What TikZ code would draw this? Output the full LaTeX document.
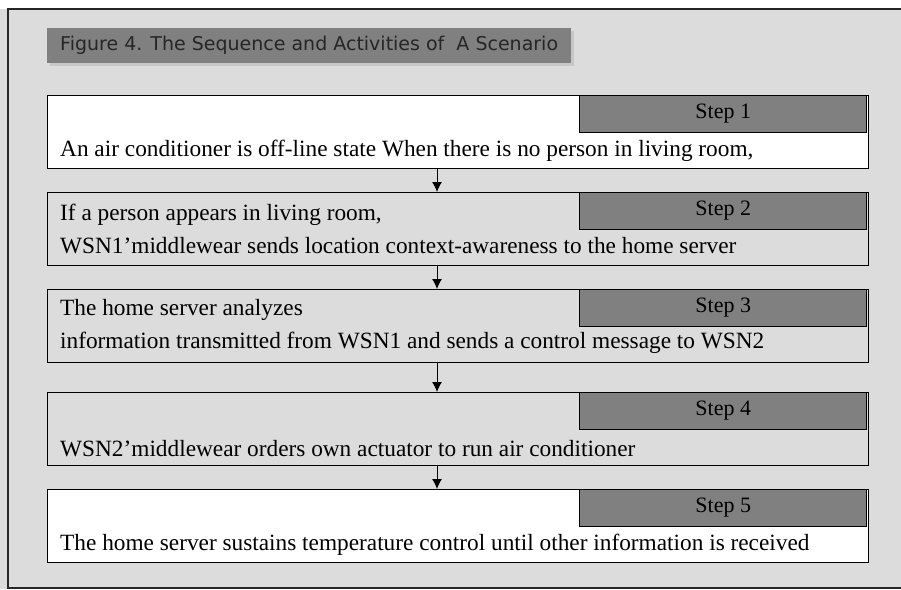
\documentclass[tikz,border=0pt]{standalone}
\usepackage{fontspec}
\setmainfont{Liberation Serif}
\newfontfamily\titlefont{DejaVu Sans}
\usetikzlibrary{positioning, arrows.meta, shadows}

\definecolor{paneBG}{HTML}{DCDCDC}
\definecolor{tagGray}{HTML}{808080}

\begin{document}
\begin{tikzpicture}[x = 1pt, y = -1pt,
	stepbox/.style = {draw, line width = 1.2pt, minimum width = 821pt, minimum height = 73pt, anchor = north west, inner sep = 0},
	steptag/.style = {draw, line width = 1pt, fill = tagGray, minimum width = 287pt, minimum height = 37pt, anchor = north east, inner sep = 0, font = \fontsize{22}{24}\selectfont},
	steptext/.style = {anchor = west, inner sep = 0, align = left, font = \fontsize{23.3}{33}\selectfont},
	titlebar/.style = {fill = tagGray, anchor = north west, minimum height = 35pt, inner xsep = 13pt, text = black!85, font = \titlefont\fontsize{19}{21}\selectfont, drop shadow = {shadow xshift = 3pt, shadow yshift = -3pt, fill = black!22, opacity = 1}},
	flow/.style = {-{Latex[length = 10pt, width = 10pt]}, line width = 1pt}]

	\useasboundingbox (0,0) rectangle (901,589);

	% page and frame
	\fill[white] (0,0) rectangle (901,589);
	\fill[paneBG] (0,9) rectangle (901,589);
	\draw[line width = 1.5pt, black!85] (901,9) -- (8,9) -- (8,588) -- (901,588);

	\node[titlebar] (title) at (47,28) {Figure 4. The Sequence and Activities of\ \ A Scenario};

	% the five steps
	\node[stepbox, fill = white] (box1) at (47,95) {};
	\node[stepbox, fill = paneBG] (box2) at (47,192) {};
	\node[stepbox, fill = paneBG] (box3) at (47,289) {};
	\node[stepbox, fill = paneBG] (box4) at (47,392) {};
	\node[stepbox, fill = white] (box5) at (47,489) {};

	\foreach \n in {1,...,5}
	{
		\node[steptag] (tag\n) at ([xshift = -2pt]box\n.north east) {Step \n};
	}

	\node[steptext] (txt1) at ([xshift = 13pt, yshift = 18pt]box1.south west) {An air conditioner is off-line state When there is no person in living room,};
	\node[steptext] (txt2) at ([xshift = 13pt]box2.west) {If a person appears in living room,\\WSN1'middlewear sends location context-awareness to the home server};
	\node[steptext] (txt3) at ([xshift = 13pt]box3.west) {The home server analyzes\\information transmitted from WSN1 and sends a control message to WSN2};
	\node[steptext] (txt4) at ([xshift = 13pt, yshift = 18pt]box4.south west) {WSN2'middlewear orders own actuator to run air conditioner};
	\node[steptext] (txt5) at ([xshift = 13pt, yshift = 18pt]box5.south west) {The home server sustains temperature control until other information is received};

	% arrows between steps
	\coordinate (spine) at (437,0);
	\foreach \a/\b in {1/2, 2/3, 3/4, 4/5}
	{
		\draw[flow] (box\a.south -| spine) -- (box\b.north -| spine);
	}
\end{tikzpicture}
\end{document}
